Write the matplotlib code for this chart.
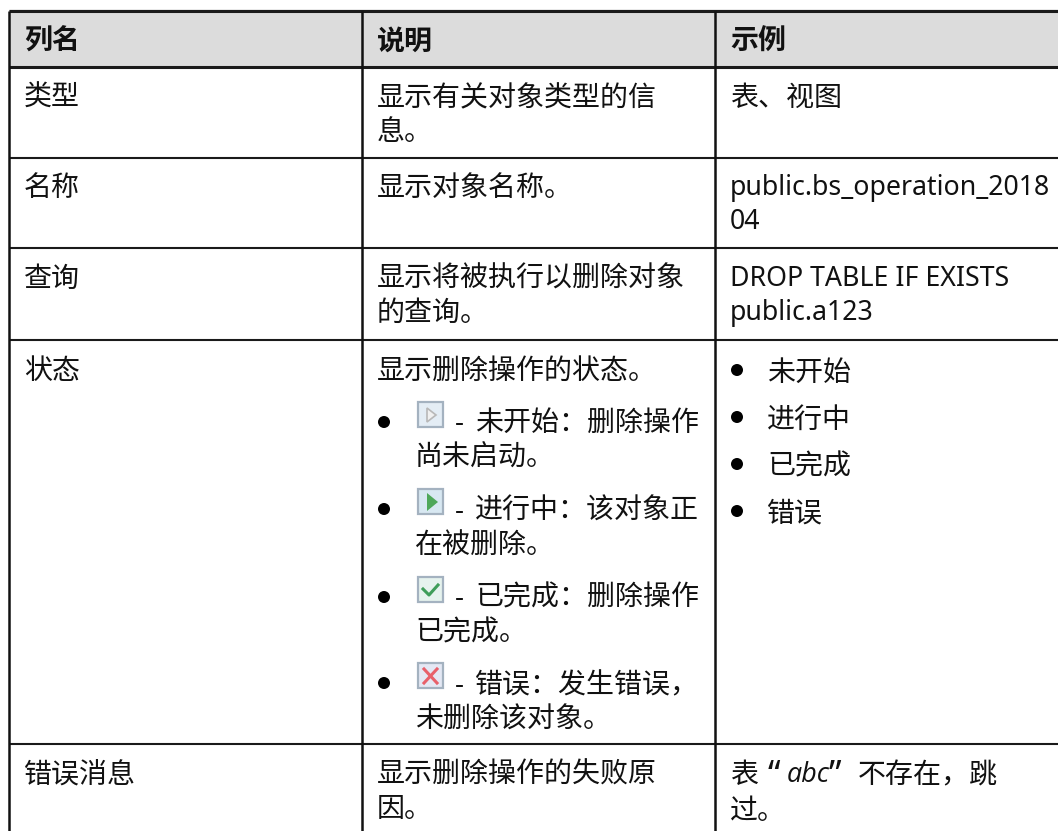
import matplotlib
matplotlib.use('Agg')
import matplotlib.pyplot as plt
from matplotlib.patches import Rectangle, Polygon, Circle

plt.rcParams['font.family'] = ['Noto Sans', 'Noto Sans CJK SC', 'DejaVu Sans']

# Contenido de la tabla
headers = ['列名', '说明', '示例']
names = ['类型', '名称', '查询', '状态', '错误消息']
desc_lines = [
    ['显示有关对象类型的信', '息。'],
    ['显示对象名称。'],
    ['显示将被执行以删除对象', '的查询。'],
    ['显示删除操作的状态。'],
    ['显示删除操作的失败原', '因。'],
]
example_lines = [
    ['表、视图'],
    ['public.bs_operation_2018', '04'],
    ['DROP TABLE IF EXISTS', 'public.a123'],
    [],
    [],
]
state_first = ['未开始：删除操作', '进行中：该对象正', '已完成：删除操作', '错误：发生错误，']
state_second = ['尚未启动。', '在被删除。', '已完成。', '未删除该对象。']
state_names = ['未开始', '进行中', '已完成', '错误']

# Geometria en pixeles de la imagen
col_x = [9, 362, 715, 1070]
row_y = [11, 67, 158, 248, 340, 744, 860]
first_line = [95, 185, 276, 368, 772]
line_step = 34
font_px = 28
fs = font_px * 0.72
latin_fs = fs * 0.955
state_y = [420, 508, 595, 682]
state_y2 = [455, 542, 630, 717]
icon_top = [402, 489, 577, 663]
bullet_y = [422, 509, 597, 683]
example_state_y = [370, 417, 464, 511]

fig = plt.figure(figsize=(10.58, 8.31), dpi=100)
ax = fig.add_axes([0, 0, 1, 1])
ax.set_xlim(0, 1058)
ax.set_ylim(831, 0)
ax.axis('off')


def put(x, y, s, dy=4, **kw):
    ax.text(x, y + dy, s, fontsize=kw.pop('fontsize', fs), va='center', ha='left', color='#111111', **kw)


# Fondo de la cabecera y lineas
ax.add_patch(Rectangle((col_x[0], row_y[0]), 1058, row_y[1] - row_y[0], color='#dcdcdc', lw=0))
ax.plot([col_x[0], 1058], [9.5, 9.5], color='#aaaaaa', lw=1, solid_capstyle='butt')
for i, y in enumerate(row_y[:-1]):
    ax.plot([col_x[0], 1058], [y, y], color='#1a1a1a', lw=2.2 if i < 2 else 1.5, solid_capstyle='butt')
for x in col_x[:-1]:
    ax.plot([x, x], [row_y[0], 831], color='#111111', lw=1.8, solid_capstyle='butt')

for x, h in zip(col_x, headers):
    put(x + 15, 39, h, fontweight='bold')

for i, name in enumerate(names):
    put(col_x[0] + 15, first_line[i], name)
    for j, s in enumerate(desc_lines[i]):
        put(col_x[1] + 15, first_line[i] + j * line_step, s)
    for j, s in enumerate(example_lines[i]):
        if s.isascii():
            put(col_x[2] + 15, first_line[i] + j * line_step, s, dy=3, fontsize=latin_fs)
        else:
            put(col_x[2] + 15, first_line[i] + j * line_step, s)

# Ultima celda con el texto en cursiva
put(730, 772, '表')
put(768, 772, '“', family='Noto Sans', fontsize=fs * 1.25)
put(787, 772, 'abc', dy=3, style='italic', family='Open Sans', fontsize=fs * 0.96)
put(829, 772, '”', family='Noto Sans', fontsize=fs * 1.25)
put(858, 772, '不存在，跳')
put(730, 808, '过。')


def draw_icon(kind, top):
    left = 418
    size = 25
    face = {'idle': '#e4edf5', 'run': '#d8e8f2', 'done': '#e6f3ee', 'error': '#e4e8f4'}[kind]
    ax.add_patch(Rectangle((left, top), size, size, facecolor=face, edgecolor='#a4b2c0', lw=1.6))
    if kind == 'idle':
        ax.add_patch(Polygon([(left + 9, top + 6), (left + 18, top + 13), (left + 9, top + 20)], closed=True,
                             facecolor='#f0f0f0', edgecolor='#b8b8b8', lw=1.2))
    elif kind == 'run':
        ax.add_patch(Polygon([(left + 9, top + 4), (left + 20, top + 13), (left + 9, top + 22)], closed=True,
                             facecolor='#4fa85a', edgecolor='none'))
    elif kind == 'done':
        ax.plot([left + 5, left + 11, left + 20], [top + 12, top + 18, top + 8], color='#3f9e5a', lw=2.2)
    else:
        ax.plot([left + 6, left + 19], [top + 6, top + 20], color='#e8606a', lw=2.2)
        ax.plot([left + 19, left + 6], [top + 6, top + 20], color='#e8606a', lw=2.2)


# Lista de estados en la columna central
kinds = ['idle', 'run', 'done', 'error']
for i in range(4):
    ax.add_patch(Circle((384, bullet_y[i]), 6, color='black', lw=0))
    draw_icon(kinds[i], icon_top[i])
    put(455, state_y[i], '-')
    put(475, state_y[i], state_first[i])
    put(415, state_y2[i], state_second[i])

# Lista de estados en la columna de ejemplos
for s, y in zip(state_names, example_state_y):
    ax.add_patch(Circle((737, y), 6, color='black', lw=0))
    put(767, y, s)

fig.savefig('out.png', dpi=100)
